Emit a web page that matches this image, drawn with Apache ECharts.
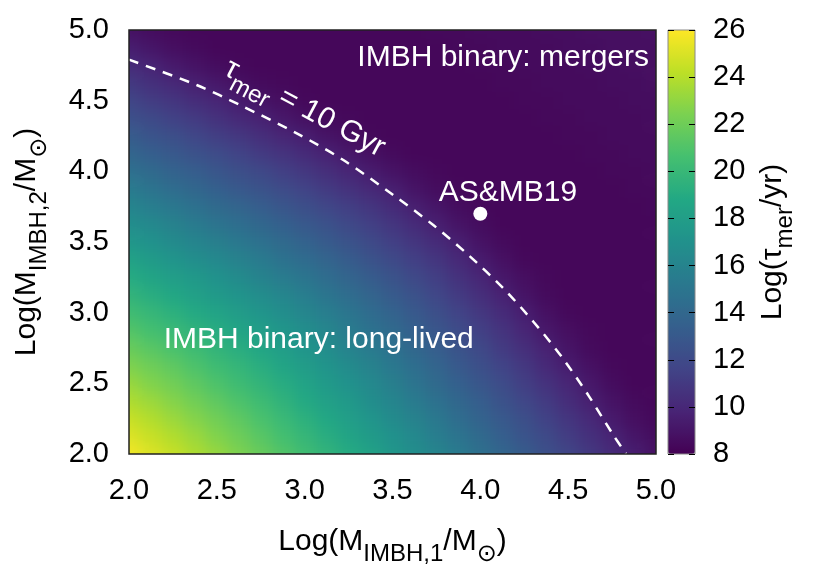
<!DOCTYPE html>
<html><head><meta charset="utf-8">
<script src="https://cdn.jsdelivr.net/npm/echarts@6/dist/echarts.min.js"></script>
<style>
html,body{margin:0;padding:0;background:#fff}
#wrap{position:relative;width:830px;height:581px}
#clip{position:absolute;left:129px;top:30px;width:527px;height:424px;overflow:hidden}
#heat{position:absolute;left:-129px;top:-30px;width:830px;height:581px;filter:blur(7px)}
#c{position:absolute;left:0;top:0;width:830px;height:581px}
</style>
</head><body>
<div id="wrap"><div id="clip"><div id="heat"></div></div><div id="c"></div></div>
<script>
// grid-point centres (log10 masses)
const xCenters = [2.0,2.125,2.25,2.375,2.5,2.625,2.75,2.875,3.0,3.125,3.25,3.375,3.5,3.625,3.75,3.875,4.0,4.125,4.25,4.375,4.5,4.625,4.75,4.875,5.0];
const yCenters = [2.0,2.125,2.25,2.375,2.5,2.625,2.75,2.875,3.0,3.125,3.25,3.375,3.5,3.625,3.75,3.875,4.0,4.125,4.25,4.375,4.5,4.625,4.75,4.875,5.0];
// Log(tau_mer / yr), one row per y value (bottom row first)
const logTauRows = [
[25.7,25.1,24.5,23.8,23.2,22.5,21.8,21.1,20.4,19.7,19.0,18.3,17.5,16.8,16.1,15.4,14.6,13.9,13.2,12.4,11.7,11.0,10.2,9.5,8.8],
[25.1,24.5,23.9,23.3,22.6,22.0,21.3,20.6,19.9,19.2,18.5,17.8,17.1,16.4,15.6,14.9,14.2,13.4,12.7,12.0,11.2,10.5,9.8,9.1,8.6],
[24.5,23.9,23.3,22.7,22.1,21.5,20.8,20.1,19.4,18.7,18.0,17.3,16.6,15.9,15.2,14.4,13.7,13.0,12.3,11.5,10.8,10.1,9.3,8.7,8.4],
[23.8,23.3,22.7,22.1,21.5,20.9,20.3,19.6,18.9,18.2,17.6,16.8,16.1,15.4,14.7,14.0,13.3,12.5,11.8,11.1,10.3,9.6,8.9,8.5,8.3],
[23.2,22.6,22.1,21.5,20.9,20.3,19.7,19.1,18.4,17.7,17.1,16.4,15.7,14.9,14.2,13.5,12.8,12.1,11.3,10.6,9.9,9.2,8.6,8.3,8.3],
[22.5,22.0,21.5,20.9,20.3,19.8,19.2,18.5,17.9,17.2,16.6,15.9,15.2,14.5,13.8,13.0,12.3,11.6,10.9,10.1,9.4,8.8,8.4,8.3,8.3],
[21.8,21.3,20.8,20.3,19.7,19.2,18.6,18.0,17.3,16.7,16.0,15.4,14.7,14.0,13.3,12.6,11.9,11.1,10.4,9.7,9.0,8.5,8.3,8.3,8.3],
[21.1,20.6,20.1,19.6,19.1,18.5,18.0,17.4,16.8,16.2,15.5,14.8,14.2,13.5,12.8,12.1,11.4,10.7,9.9,9.2,8.7,8.4,8.3,8.3,8.3],
[20.4,19.9,19.4,18.9,18.4,17.9,17.3,16.8,16.2,15.6,15.0,14.3,13.7,13.0,12.3,11.6,10.9,10.2,9.5,8.8,8.4,8.3,8.3,8.3,8.3],
[19.7,19.2,18.7,18.2,17.7,17.2,16.7,16.2,15.6,15.0,14.4,13.8,13.1,12.5,11.8,11.1,10.4,9.7,9.0,8.5,8.3,8.3,8.3,8.3,8.3],
[19.0,18.5,18.0,17.6,17.1,16.6,16.0,15.5,15.0,14.4,13.8,13.2,12.6,11.9,11.3,10.6,9.9,9.2,8.7,8.4,8.3,8.3,8.3,8.3,8.3],
[18.3,17.8,17.3,16.8,16.4,15.9,15.4,14.8,14.3,13.8,13.2,12.6,12.0,11.4,10.8,10.1,9.4,8.8,8.4,8.3,8.3,8.3,8.3,8.3,8.3],
[17.5,17.1,16.6,16.1,15.7,15.2,14.7,14.2,13.7,13.1,12.6,12.0,11.4,10.8,10.2,9.6,8.9,8.5,8.3,8.3,8.3,8.3,8.3,8.3,8.3],
[16.8,16.4,15.9,15.4,14.9,14.5,14.0,13.5,13.0,12.5,11.9,11.4,10.8,10.2,9.6,9.0,8.6,8.3,8.3,8.3,8.3,8.3,8.3,8.3,8.3],
[16.1,15.6,15.2,14.7,14.2,13.8,13.3,12.8,12.3,11.8,11.3,10.8,10.2,9.6,9.1,8.6,8.4,8.3,8.3,8.3,8.3,8.3,8.3,8.3,8.4],
[15.4,14.9,14.4,14.0,13.5,13.0,12.6,12.1,11.6,11.1,10.6,10.1,9.6,9.0,8.6,8.4,8.3,8.3,8.3,8.3,8.3,8.3,8.3,8.4,8.4],
[14.6,14.2,13.7,13.3,12.8,12.3,11.9,11.4,10.9,10.4,9.9,9.4,8.9,8.6,8.4,8.3,8.3,8.3,8.3,8.3,8.3,8.3,8.4,8.4,8.5],
[13.9,13.4,13.0,12.5,12.1,11.6,11.1,10.7,10.2,9.7,9.2,8.8,8.5,8.3,8.3,8.3,8.3,8.3,8.3,8.3,8.3,8.4,8.4,8.5,8.5],
[13.2,12.7,12.3,11.8,11.3,10.9,10.4,9.9,9.5,9.0,8.7,8.4,8.3,8.3,8.3,8.3,8.3,8.3,8.3,8.3,8.4,8.4,8.5,8.5,8.5],
[12.4,12.0,11.5,11.1,10.6,10.1,9.7,9.2,8.8,8.5,8.4,8.3,8.3,8.3,8.3,8.3,8.3,8.3,8.3,8.4,8.4,8.5,8.5,8.5,8.6],
[11.7,11.2,10.8,10.3,9.9,9.4,9.0,8.7,8.4,8.3,8.3,8.3,8.3,8.3,8.3,8.3,8.3,8.3,8.4,8.4,8.5,8.5,8.5,8.6,8.6],
[11.0,10.5,10.1,9.6,9.2,8.8,8.5,8.4,8.3,8.3,8.3,8.3,8.3,8.3,8.3,8.3,8.3,8.4,8.4,8.5,8.5,8.5,8.6,8.6,8.7],
[10.2,9.8,9.3,8.9,8.6,8.4,8.3,8.3,8.3,8.3,8.3,8.3,8.3,8.3,8.3,8.3,8.4,8.4,8.5,8.5,8.5,8.6,8.6,8.7,8.7],
[9.5,9.1,8.7,8.5,8.3,8.3,8.3,8.3,8.3,8.3,8.3,8.3,8.3,8.3,8.3,8.4,8.4,8.5,8.5,8.5,8.6,8.6,8.7,8.7,8.7],
[8.8,8.6,8.4,8.3,8.3,8.3,8.3,8.3,8.3,8.3,8.3,8.3,8.3,8.3,8.4,8.4,8.5,8.5,8.5,8.6,8.6,8.7,8.7,8.7,8.8]
];
// tau_mer = 10 Gyr curve
const contourX = [2.0,2.385,2.632,2.955,3.22,3.505,3.732,3.932,4.131,4.302,4.463,4.614,4.757,4.83];
const contourY = [4.79,4.611,4.469,4.269,4.08,3.832,3.62,3.408,3.172,2.936,2.688,2.417,2.134,2.0];
// AS&MB19 point
const asPoint = [4.0, 3.7];
// axis ranges / ticks
const massTicks = [2.0,2.5,3.0,3.5,4.0,4.5,5.0];
const cbTicks = [8,10,12,14,16,18,20,22,24,26];

const FONT = '"Liberation Sans", Arial, Helvetica, "DejaVu Sans", sans-serif';
const viridis = ['#440154','#482475','#414487','#355f8d','#2a788e','#21918c','#22a884','#44bf70','#7ad151','#bddf26','#fde725'];

const heatData = [];
logTauRows.forEach((row, j) => row.forEach((v, i) => heatData.push([xCenters[i], yCenters[j], v])));
const halfX = (xCenters[1] - xCenters[0]) / 2;
const halfY = (yCenters[1] - yCenters[0]) / 2;
const xMin = massTicks[0], xMax = massTicks[massTicks.length-1];
const cbMin = cbTicks[0], cbMax = cbTicks[cbTicks.length-1];
const gridBox = {left: 129, top: 30, width: 527, height: 424};

// ---------- heat layer (smoothed with a CSS blur, clipped to the plot box) ----------
const heat = echarts.init(document.getElementById('heat'), null, {renderer: 'canvas'});
heat.setOption({
  animation: false,
  grid: Object.assign({show: false}, gridBox),
  xAxis: {type: 'value', min: xMin, max: xMax, show: false},
  yAxis: {type: 'value', min: xMin, max: xMax, show: false},
  visualMap: {type: 'continuous', min: cbMin, max: cbMax, dimension: 2, inRange: {color: viridis}, show: false},
  series: [{
    type: 'custom', data: heatData, dimensions: ['x','y','v'], encode: {x: 0, y: 1}, clip: false, silent: true,
    renderItem: function (params, api) {
      const x = api.value(0), y = api.value(1);
      const p0 = api.coord([x - halfX, y + halfY]);
      const p1 = api.coord([x + halfX, y - halfY]);
      let x0 = p0[0], y0 = p0[1], x1 = p1[0] + 0.7, y1 = p1[1] + 0.7;
      const ext = 40;
      if (x === xCenters[0]) x0 -= ext;
      if (x === xCenters[xCenters.length-1]) x1 += ext;
      if (y === yCenters[0]) y1 += ext;
      if (y === yCenters[yCenters.length-1]) y0 -= ext;
      return {type: 'rect', shape: {x: x0, y: y0, width: x1 - x0, height: y1 - y0},
              style: {fill: api.visual('color')}};
    }
  }]
});

// ---------- main chart: axes, colour bar, curve, labels ----------
const mainSize = 30, subSize = 24;
const richTitle = {
  a: {fontSize: mainSize, fontFamily: FONT, color: '#000'},
  s: {fontSize: subSize, fontFamily: FONT, color: '#000', padding: [24, 0, 0, 0]}
};
const richWhite = {
  t: {fontSize: mainSize, fontFamily: FONT, color: '#fff'},
  s: {fontSize: subSize, fontFamily: FONT, color: '#fff', padding: [24, 0, 0, 0]}
};

const chart = echarts.init(document.getElementById('c'), null, {renderer: 'canvas'});
chart.setOption({
  animation: false,
  backgroundColor: 'transparent',
  textStyle: {fontFamily: FONT},
  grid: [
    Object.assign({show: true, borderColor: '#222', borderWidth: 1.5, backgroundColor: 'transparent', z: 10}, gridBox),
    {left: 668, top: 30, width: 27, height: 424, show: true, borderColor: '#888', borderWidth: 1, backgroundColor: 'transparent', z: 10}
  ],
  xAxis: [
    {type: 'value', gridIndex: 0, min: xMin, max: xMax, interval: 0.5,
     axisLine: {show: false}, axisTick: {show: false}, splitLine: {show: false},
     axisLabel: {fontSize: 29, color: '#000', margin: 22, fontFamily: FONT, formatter: v => v.toFixed(1)},
     name: '{a|Log(M}{s|IMBH,1}{a|/M}{s|⊙}{a|)}', nameLocation: 'middle', nameGap: 64,
     nameTextStyle: {rich: richTitle}},
    {type: 'value', gridIndex: 1, min: 0, max: 1, show: false}
  ],
  yAxis: [
    {type: 'value', gridIndex: 0, min: xMin, max: xMax, interval: 0.5,
     axisLine: {show: false}, axisTick: {show: false}, splitLine: {show: false},
     axisLabel: {fontSize: 29, color: '#000', margin: 20, fontFamily: FONT, formatter: v => v.toFixed(1)},
     name: '{a|Log(M}{s|IMBH,2}{a|/M}{s|⊙}{a|)}', nameLocation: 'middle', nameRotate: 90, nameGap: 78,
     nameTextStyle: {rich: richTitle}},
    {type: 'value', gridIndex: 1, position: 'left', min: cbMin, max: cbMax, interval: 2,
     axisLabel: {show: false}, axisLine: {show: false}, splitLine: {show: false},
     axisTick: {show: true, inside: true, length: 6, lineStyle: {color: '#000', width: 1}}, z: 10},
    {type: 'value', gridIndex: 1, position: 'right', min: cbMin, max: cbMax, interval: 2,
     axisLine: {show: false}, splitLine: {show: false},
     axisTick: {show: true, inside: true, length: 6, lineStyle: {color: '#000', width: 1}},
     axisLabel: {fontSize: 29, color: '#000', margin: 18, fontFamily: FONT},
     name: '{a|Log(τ}{s|mer}{a|/yr)}', nameLocation: 'middle', nameRotate: 90, nameGap: 54,
     nameTextStyle: {rich: richTitle}, z: 10}
  ],
  visualMap: {
    type: 'continuous', min: cbMin, max: cbMax, dimension: 2, seriesIndex: [],
    inRange: {color: viridis}, orient: 'vertical', left: 668, top: 30, itemWidth: 27, itemHeight: 424,
    padding: 0, calculable: false, hoverLink: false, show: true
  },
  series: [
    {type: 'line', xAxisIndex: 0, yAxisIndex: 0, data: contourX.map((x, k) => [x, contourY[k]]),
     symbol: 'none', smooth: 0.3, silent: true, z: 5,
     lineStyle: {color: '#fff', width: 2.5, type: [10, 8]}},
    {type: 'scatter', xAxisIndex: 0, yAxisIndex: 0, data: [asPoint], symbol: 'circle', symbolSize: 14,
     itemStyle: {color: '#fff', opacity: 1}, silent: true, z: 6},
    {type: 'scatter', xAxisIndex: 0, yAxisIndex: 0, symbolSize: 0, silent: true, z: 7,
     itemStyle: {opacity: 1},
     label: {show: true, position: 'inside', color: '#fff', fontSize: 30, fontFamily: FONT},
     data: [
       {value: [4.13, 4.805], label: {formatter: 'IMBH binary: mergers'}},
       {value: [3.08, 2.81], label: {formatter: 'IMBH binary: long-lived'}},
       {value: [4.157, 3.847], label: {formatter: 'AS&MB19'}},
       {value: [3.0, 4.446], label: {formatter: '{t|τ}{s|mer}{t| = 10 Gyr}', rotate: -28, rich: richWhite}}
     ]}
  ]
});
</script>
</body></html>
